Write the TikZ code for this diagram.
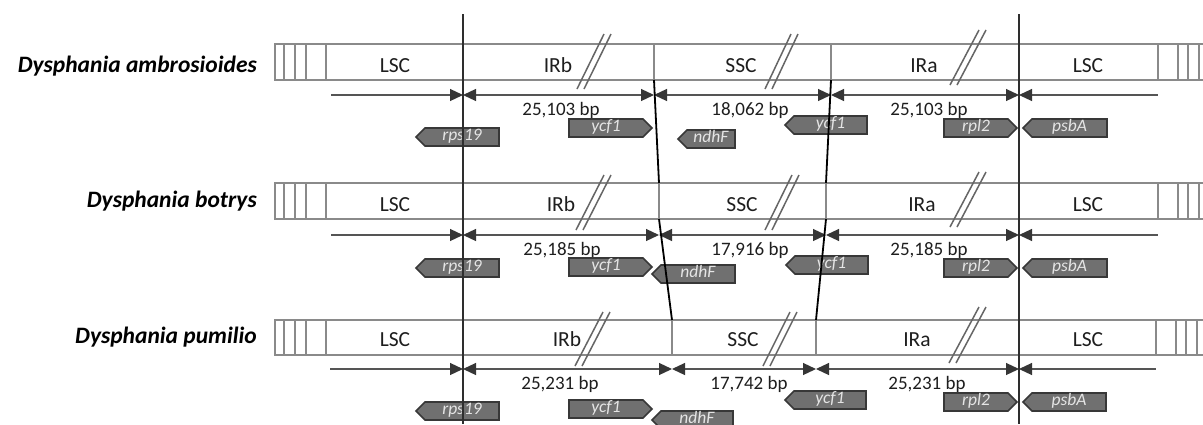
\documentclass[tikz,border=0pt]{standalone}
\usepackage{fontspec}
\setmainfont{Carlito}
\usetikzlibrary{arrows.meta}
\definecolor{boxgray}{HTML}{8A8A8A}
\definecolor{jdark}{HTML}{2E2E2E}
\definecolor{genefill}{HTML}{707070}
\definecolor{geneedge}{HTML}{383838}
\definecolor{arrgray}{HTML}{555555}
\definecolor{tipdark}{HTML}{363636}
\definecolor{slashgray}{HTML}{666666}
\definecolor{textdark}{HTML}{1E1E1E}
\tikzset{
  seg/.style={draw=boxgray, line width=1.8pt},
  jline/.style={draw=jdark, line width=1.6pt},
  shiftline/.style={draw=black, line width=1.8pt},
  dimline/.style={draw=arrgray, line width=1.2pt},
  tipR/.style={dimline, -{Triangle[length=13pt,width=12pt,color=tipdark]}},
  tipL/.style={dimline, {Triangle[length=13pt,width=12pt,color=tipdark]}-},
  tipB/.style={dimline, {Triangle[length=13pt,width=12pt,color=tipdark]}-{Triangle[length=13pt,width=12pt,color=tipdark]}},
  slashline/.style={draw=slashgray, line width=1.5pt},
  genebox/.style={draw=geneedge, fill=genefill, line width=1.6pt, line join=miter},
  genetext/.style={text=white!90!black, inner sep=0pt, font=\fontsize{17.5pt}{19pt}\selectfont\itshape, text height=11pt, text depth=3.5pt},
  title/.style={text=black, inner sep=0pt, anchor=base east, font=\fontsize{23.5pt}{28pt}\selectfont\bfseries\itshape},
  region/.style={text=textdark, inner sep=0pt, anchor=base, font=\fontsize{21.5pt}{24pt}\selectfont},
  bp/.style={text=textdark, inner sep=0pt, anchor=base, font=\fontsize{19pt}{22pt}\selectfont},
}
% gene pointing left: name, tip x, right x, top y, text
\newcommand\geneL[5]{%
  \draw[genebox] (#2,#4+9) -- (#2+9,#4) -- (#3,#4) -- (#3,#4+18) -- (#2+9,#4+18) -- cycle;
  \node[genetext] (#1) at ({(#2+9+#3)/2},#4+9) {#5};}
% gene pointing right: name, left x, tip x, top y, text
\newcommand\geneR[5]{%
  \draw[genebox] (#2,#4) -- (#3-9,#4) -- (#3,#4+9) -- (#3-9,#4+18) -- (#2,#4+18) -- cycle;
  \node[genetext] (#1) at ({(#2+#3-9)/2},#4+9) {#5};}
% slash pair: bottom x, bottom y, top x, top y
\newcommand\slashpair[4]{%
  \draw[slashline] (#1,#2) -- (#3,#4);
  \draw[slashline] (#1+7,#2) -- (#3+7,#4);}
% row box: top, bottom, j2, j3, right LSC end
\newcommand\rowbox[5]{%
  \draw[seg] (275,#1) rectangle (1215,#2);
  \foreach \xx in {284,295,306,326,463,#3,#4,1019,#5,#5+20,#5+30,#5+41}
    {\draw[seg] (\xx,#1) -- (\xx,#2);}}
\begin{document}
\begin{tikzpicture}[x=1pt,y=-1pt]
\useasboundingbox (0,0) rectangle (1203,424);
\clip (0,0) rectangle (1203,424);
\fill[white] (0,0) rectangle (1203,424);

% ---------- row boxes ----------
\rowbox{44}{80}{654}{831}{1158}
\rowbox{183}{219}{659}{826}{1158}
\rowbox{320}{355}{672}{816}{1156}

% ---------- slash marks ----------
\slashpair{577}{89}{604}{34}
\slashpair{765}{89}{791}{34}
\slashpair{950}{85}{979}{30}
\slashpair{576}{230}{604}{175}
\slashpair{765}{230}{792}{175}
\slashpair{950}{227}{979}{172}
\slashpair{575}{366}{603}{312}
\slashpair{763}{366}{790}{312}
\slashpair{949}{363}{979}{307}

% ---------- titles ----------
\node[title] (t1) at (257,72) {Dysphania ambrosioides};
\node[title] (t2) at (257,207) {Dysphania botrys};
\node[title] (t3) at (257,343) {Dysphania pumilio};

% ---------- region labels ----------
\node[region] (lscA1) at (395,72.5) {LSC};
\node[region] (irbA1) at (558,72.5) {IRb};
\node[region] (sscA1) at (741,72.5) {SSC};
\node[region] (iraA1) at (924,72.5) {IRa};
\node[region] (lscB1) at (1088,72.5) {LSC};
\node[region] (lscA2) at (395,211) {LSC};
\node[region] (irbA2) at (561,211) {IRb};
\node[region] (sscA2) at (742,211) {SSC};
\node[region] (iraA2) at (922,211) {IRa};
\node[region] (lscB2) at (1088,211) {LSC};
\node[region] (lscA3) at (395,346) {LSC};
\node[region] (irbA3) at (567,346) {IRb};
\node[region] (sscA3) at (743,346) {SSC};
\node[region] (iraA3) at (917,346) {IRa};
\node[region] (lscB3) at (1088,346) {LSC};

% ---------- junction coordinates ----------
\coordinate (jbtop) at (463,14);
\coordinate (jbbot) at (463,424);
\coordinate (jatop) at (1019,14);
\coordinate (jabot) at (1019,424);
\coordinate (s1b) at (654,80);
\coordinate (s2t) at (659,183);
\coordinate (s2b) at (659,219);
\coordinate (s3t) at (672,320);
\coordinate (u1b) at (831,80);
\coordinate (u2t) at (826,183);
\coordinate (u2b) at (826,219);
\coordinate (u3t) at (816,320);

% ---------- dimension arrows ----------
\coordinate (a1s) at (331,95);  \coordinate (a1j1) at (463,95);
\coordinate (a1j2) at (654,95); \coordinate (a1j3) at (831,95);
\coordinate (a1j4) at (1019,95); \coordinate (a1e) at (1158,95);
\draw[tipR] (a1s) -- (a1j1);
\draw[tipB] (a1j1) -- (a1j2);
\draw[tipB] (a1j2) -- (a1j3);
\draw[tipB] (a1j3) -- (a1j4);
\draw[tipL] (a1j4) -- (a1e);

\coordinate (a2s) at (331,235);  \coordinate (a2j1) at (463,235);
\coordinate (a2j2) at (659,235); \coordinate (a2j3) at (826,235);
\coordinate (a2j4) at (1019,235); \coordinate (a2e) at (1158,235);
\draw[tipR] (a2s) -- (a2j1);
\draw[tipB] (a2j1) -- (a2j2);
\draw[tipB] (a2j2) -- (a2j3);
\draw[tipB] (a2j3) -- (a2j4);
\draw[tipL] (a2j4) -- (a2e);

\coordinate (a3s) at (330,369);  \coordinate (a3j1) at (463,369);
\coordinate (a3j2) at (672,369); \coordinate (a3j3) at (816,369);
\coordinate (a3j4) at (1019,369); \coordinate (a3e) at (1156,369);
\draw[tipR] (a3s) -- (a3j1);
\draw[tipB] (a3j1) -- (a3j2);
\draw[tipB] (a3j2) -- (a3j3);
\draw[tipB] (a3j3) -- (a3j4);
\draw[tipL] (a3j4) -- (a3e);

% ---------- bp labels ----------
\node[bp] (b11) at (561,115) {25,103 bp};
\node[bp] (b12) at (750,115) {18,062 bp};
\node[bp] (b13) at (929,115) {25,103 bp};
\node[bp] (b21) at (562,255) {25,185 bp};
\node[bp] (b22) at (750,255) {17,916 bp};
\node[bp] (b23) at (929,255) {25,185 bp};
\node[bp] (b31) at (560,389) {25,231 bp};
\node[bp] (b32) at (749,389) {17,742 bp};
\node[bp] (b33) at (927,389) {25,231 bp};

% ---------- genes ----------
\geneL{g1rps}{416}{499}{128}{rps19}
\geneR{g1ycf}{569}{652}{119}{ycf1}
\geneL{g1ndh}{678}{735}{130}{ndhF}
\geneL{g1ycfb}{785}{867}{116}{ycf1}
\geneR{g1rpl}{944}{1017}{119}{rpl2}
\geneL{g1psb}{1023}{1107}{119}{psbA}

\geneL{g2rps}{416}{499}{259}{rps19}
\geneR{g2ycf}{569}{652}{258}{ycf1}
\geneL{g2ndh}{652}{735}{265}{ndhF}
\geneL{g2ycfb}{786}{868}{256}{ycf1}
\geneR{g2rpl}{944}{1017}{259}{rpl2}
\geneL{g2psb}{1023}{1107}{259}{psbA}

\geneL{g3rps}{416}{499}{402}{rps19}
\geneR{g3ycf}{569}{652}{400}{ycf1}
\geneL{g3ndh}{652}{733}{411}{ndhF}
\geneL{g3ycfb}{785}{866}{391}{ycf1}
\geneR{g3rpl}{944}{1017}{393}{rpl2}
\geneL{g3psb}{1023}{1106}{393}{psbA}

% junction lines drawn over everything
\draw[jline] (jbtop) -- (jbbot);
\draw[jline] (jatop) -- (jabot);
\draw[shiftline] (s1b) -- (s2t);
\draw[shiftline] (s2b) -- (s3t);
\draw[shiftline] (u1b) -- (u2t);
\draw[shiftline] (u2b) -- (u3t);
\end{tikzpicture}
\end{document}
